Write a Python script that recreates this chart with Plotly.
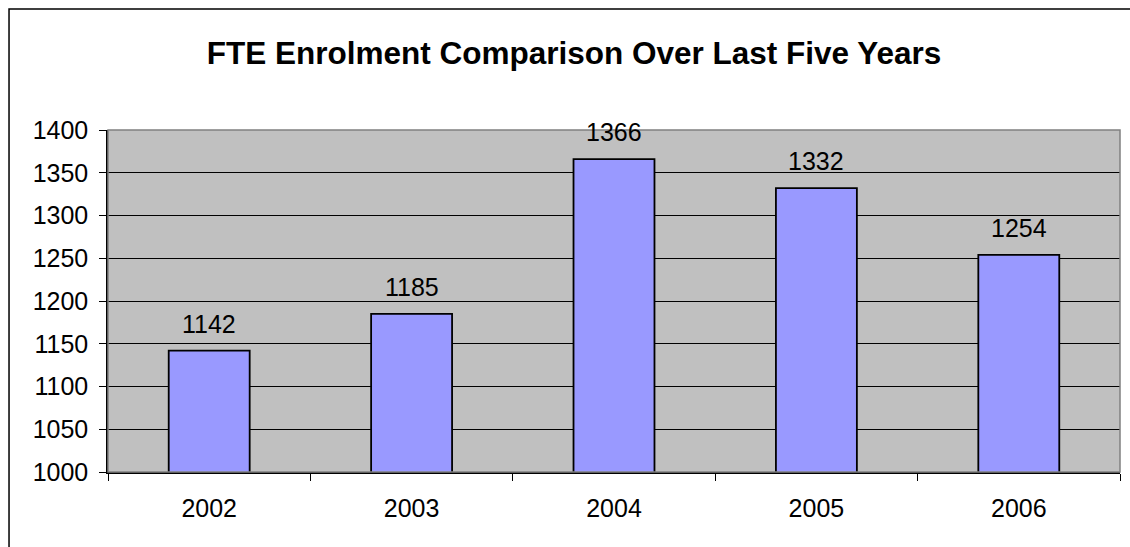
import plotly.graph_objects as go

years = ["2002", "2003", "2004", "2005", "2006"]
fte = [1142, 1185, 1366, 1332, 1254]
title_text = "FTE Enrolment Comparison Over Last Five Years"

FONT = "Liberation Sans, Arial, sans-serif"

fig = go.Figure()
fig.add_trace(go.Bar(
    x=years, y=fte,
    marker=dict(color="#9999FF", line=dict(color="#000000", width=1.8)),
    hoverinfo="x+y",
))

for i, v in enumerate(fte):
    fig.add_annotation(x=i, y=v, text=str(v), showarrow=False,
                       yanchor="bottom", yshift=11,
                       font=dict(family=FONT, size=25, color="#000000"))

# outer chart frame
fig.add_shape(type="rect", xref="paper", yref="paper",
              x0=-0.0978, x1=1.03, y0=-0.3, y1=1.3538,
              line=dict(color="#000000", width=1.5), layer="below")
# plot-area border (top/right gray)
fig.add_shape(type="rect", xref="paper", yref="paper",
              x0=0, x1=1, y0=0, y1=1,
              line=dict(color="#808080", width=1.5), layer="above")

fig.update_layout(
    width=1130, height=547,
    margin=dict(l=108, r=10, t=130, b=75),
    paper_bgcolor="#FFFFFF", plot_bgcolor="#C0C0C0",
    bargap=0.6, showlegend=False,
    title=dict(text="<b>" + title_text + "</b>", x=574 / 1130, xref="container",
               xanchor="center",
               y=1 - 53 / 547, yref="container", yanchor="middle",
               font=dict(family=FONT, size=31.5, color="#000000")),
    font=dict(family=FONT, color="#000000"),
)

fig.update_xaxes(type="category", range=[-0.5, len(years) - 0.5], autorange=False,
                 tickson="boundaries", ticks="outside", ticklen=7,
                 tickcolor="#000000", showline=True, linecolor="#000000", linewidth=1.5,
                 showgrid=False, ticklabelstandoff=13, tickangle=0,
                 tickfont=dict(family=FONT, size=25, color="#000000"))
fig.update_yaxes(range=[1000, 1400], autorange=False, dtick=50, tick0=1000,
                 ticks="outside", ticklen=7,
                 tickcolor="#000000", showline=True, linecolor="#000000", linewidth=1.5,
                 showgrid=True, gridcolor="#000000", gridwidth=1, zeroline=False,
                 ticklabelstandoff=6,
                 tickfont=dict(family=FONT, size=25, color="#000000"))

fig.write_html("out.html")
